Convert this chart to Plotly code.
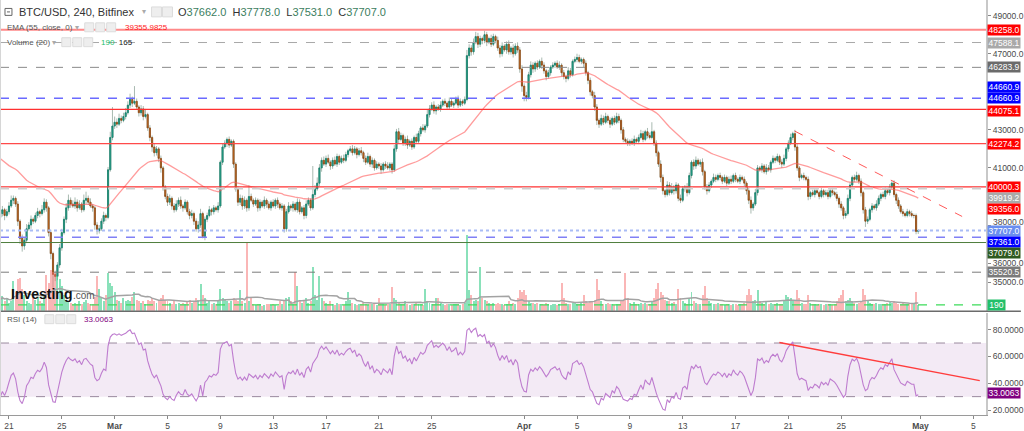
import plotly.graph_objects as go
import pandas as pd

# ------------------------------------------------------------------ data
START = "2018-02-20 08:00"          # first 4h candle shown
OPEN0 = 38400                       # open of the first candle

# closes, one line per day (6 x 4h candles), Feb 20 (4 candles) .. Apr 30
CLOSE = [
    38600, 38800, 38500, 38700,
    39000, 39300, 39400, 39100, 38200, 37300,
    36900, 37200, 37800, 38000, 38300, 38200,
    38500, 38700, 38600, 38800, 39200, 38900,
    37600, 36500, 35400, 35300, 35900, 36800,
    37600, 38300, 38900, 39300, 39100, 39000,
    39200, 38900, 39100, 38800, 39300, 39400,
    39200, 39000, 38900, 38000, 37700, 37800,
    38200, 38500, 38400, 40900, 42600, 43200,
    43400, 43300, 43600, 43500, 43700, 43900,
    44300, 44600, 44400, 44500, 44200, 43900,
    44100, 43700, 43800, 43100, 42600, 42100,
    41800, 42000, 41500, 41000, 40000, 39500,
    39200, 39400, 39000, 38800, 39100, 39300,
    39000, 38900, 39200, 38700, 38500, 38600,
    38200, 37800, 38000, 38600, 37400, 38300,
    38500, 38800, 38700, 38900, 38800, 39000,
    41300, 42100, 42300, 42500, 42200, 42400,
    41200, 39900, 39200, 39400, 39000, 39300,
    38900, 39500, 39300, 39100, 39300, 38900,
    39200, 39000, 39300, 39100, 38900, 39200,
    39000, 39300, 39100, 38900, 39000, 37800,
    38700, 39000, 38900, 39100, 38800, 39200,
    38700, 38900, 38500, 39100, 39300, 38900,
    39600, 39900, 40200, 41000, 41400, 41200,
    41500, 41300, 41100, 41400, 41200, 41600,
    41300, 41500, 41400, 41700, 41900, 42000,
    41800, 42000, 41700, 41900, 41800, 41500,
    41300, 41600, 41200, 41400, 41000, 41200,
    41100, 40900, 41200, 41100, 41000, 41200,
    40900, 42000, 42900, 42500, 42700, 42300,
    42500, 42200, 42400, 42100, 42600, 42400,
    42800, 43100, 43000, 43200, 43800, 44100,
    44300, 44000, 44200, 44100, 44300, 44500,
    44400, 44200, 44500, 44300, 44400, 44600,
    44300, 44500, 44400, 44600, 46900, 47300,
    47100, 47600, 47900, 47500, 47800, 47700,
    48000, 47600, 47800, 47500, 47900, 47700,
    47300, 47000, 47400, 47200, 47500, 47100,
    47300, 47000, 47400, 47200, 46200, 45300,
    44800, 44700, 45900, 46400, 46200, 46500,
    46300, 46600, 46400, 46100, 45800, 46000,
    46300, 46400, 46500, 46300, 46400, 46000,
    45800, 45700, 46100, 45900, 46600, 46700,
    46800, 46600, 46700, 46500, 46000, 45600,
    45000, 44800, 44200, 43500, 43300, 43600,
    43400, 43700, 43500, 43300, 43600, 43400,
    43700, 43500, 43000, 42500, 42400, 42300,
    42400, 42300, 42500, 42400, 42600, 42800,
    42500, 42900, 42700, 42600, 42900, 42300,
    41800, 41200, 40500, 39800, 39600, 40100,
    39700, 40000, 39800, 40100, 39400, 39300,
    39900, 40000, 39700, 40600, 41300, 41100,
    41400, 41200, 41300, 40800, 40000, 39800,
    40100, 40300, 40500, 40400, 40600, 40500,
    40300, 40500, 40200, 40400, 40300, 40600,
    40400, 40300, 40500, 40400, 40200, 39800,
    39300, 38900, 39100, 39700, 41000, 40900,
    41100, 40800, 41000, 40900, 41300, 41500,
    41400, 41600, 41300, 41200, 41500, 42000,
    42300, 42600, 42800, 42100, 41000, 40500,
    40600, 40500, 40400, 39500, 39700, 39600,
    39800, 39700, 39500, 39800, 39600, 39700,
    39500, 39800, 39700, 39600, 39400, 39100,
    38900, 38500, 38600, 39400, 40100, 40500,
    40400, 40600, 40300, 39700, 38800, 38200,
    38300, 38800, 39000, 38900, 39100, 39400,
    39600, 39500, 39800, 39700, 40000, 40200,
    39600, 39300, 39000, 38700, 38600, 38500,
    38700, 38600, 38500, 38500, 37662, 37707,
]

UP_WICK = [
    150, 200, 100, 150,
    200, 250, 150, 100, 150, 100,
    200, 150, 250, 150, 200, 100,
    150, 200, 100, 250, 200, 150,
    100, 150, 100, 200, 150, 200,
    200, 150, 250, 300, 150, 200,
    250, 150, 200, 100, 300, 350,
    150, 200, 100, 100, 150, 200,
    150, 200, 100, 150, 300, 1000,
    300, 200, 250, 150, 200, 250,
    200, 300, 150, 800, 150, 100,
    200, 150, 300, 100, 150, 100,
    200, 150, 100, 150, 100, 100,
    150, 200, 100, 150, 200, 150,
    200, 100, 150, 100, 150, 200,
    100, 150, 200, 250, 100, 150,
    150, 200, 100, 150, 100, 200,
    100, 200, 150, 100, 150, 100,
    100, 100, 150, 200, 150, 200,
    100, 600, 150, 100, 150, 100,
    150, 100, 200, 100, 150, 100,
    150, 100, 150, 100, 150, 100,
    150, 200, 100, 150, 100, 200,
    150, 100, 150, 200, 150, 100,
    1500, 200, 300, 200, 150, 200,
    150, 200, 100, 150, 200, 150,
    100, 150, 200, 150, 100, 150,
    200, 150, 100, 150, 200, 100,
    150, 200, 100, 150, 100, 150,
    100, 150, 100, 150, 200, 100,
    100, 200, 150, 200, 150, 100,
    150, 200, 100, 150, 100, 200,
    150, 100, 200, 100, 250, 200,
    150, 200, 100, 150, 200, 100,
    150, 100, 200, 150, 100, 150,
    200, 150, 100, 150, 300, 200,
    150, 200, 250, 200, 150, 100,
    200, 150, 100, 200, 150, 100,
    200, 150, 200, 100, 150, 200,
    100, 200, 150, 200, 150, 200,
    150, 200, 150, 200, 150, 100,
    150, 100, 200, 150, 100, 150,
    100, 150, 100, 150, 200, 100,
    150, 100, 200, 150, 100, 150,
    200, 150, 100, 100, 150, 100,
    150, 100, 200, 150, 100, 200,
    150, 200, 100, 150, 100, 150,
    200, 150, 100, 150, 100, 150,
    100, 150, 200, 100, 150, 200,
    150, 100, 200, 150, 500, 100,
    150, 100, 200, 150, 100, 200,
    150, 200, 100, 150, 100, 200,
    150, 100, 200, 150, 100, 150,
    200, 100, 150, 200, 100, 150,
    150, 100, 200, 150, 100, 150,
    100, 150, 100, 150, 200, 100,
    150, 100, 150, 100, 150, 100,
    150, 200, 100, 200, 150, 100,
    150, 100, 200, 150, 100, 150,
    100, 150, 100, 150, 200, 100,
    150, 200, 100, 200, 150, 100,
    100, 150, 100, 150, 100, 150,
    100, 150, 100, 150, 100, 150,
    150, 100, 150, 100, 150, 100,
    150, 100, 150, 200, 150, 100,
    150, 200, 100, 150, 100, 150,
    150, 100, 150, 100, 200, 150,
    100, 150, 200, 150, 150, 100,
    150, 100, 150, 100, 150, 100,
    150, 100, 150, 100, 100, 71,
]

DN_WICK = [
    200, 150, 250, 100,
    150, 100, 200, 150, 250, 300,
    300, 200, 150, 100, 200, 150,
    100, 150, 200, 100, 150, 200,
    200, 300, 700, 250, 200, 150,
    150, 100, 200, 150, 200, 100,
    150, 200, 100, 150, 100, 200,
    150, 100, 200, 250, 200, 150,
    100, 150, 200, 100, 100, 150,
    150, 200, 100, 150, 100, 150,
    100, 150, 200, 100, 150, 200,
    150, 200, 100, 150, 200, 250,
    200, 150, 200, 250, 200, 150,
    200, 150, 200, 150, 100, 150,
    150, 200, 100, 150, 200, 150,
    200, 150, 200, 150, 100, 200,
    150, 100, 200, 150, 100, 150,
    100, 150, 100, 200, 150, 100,
    200, 150, 200, 150, 200, 150,
    200, 150, 100, 150, 100, 200,
    150, 100, 150, 200, 100, 150,
    100, 150, 200, 100, 150, 200,
    150, 100, 150, 200, 100, 150,
    150, 100, 200, 150, 100, 150,
    100, 150, 100, 150, 200, 100,
    150, 100, 200, 150, 100, 150,
    150, 100, 150, 100, 150, 100,
    150, 100, 200, 100, 150, 200,
    150, 100, 150, 200, 150, 100,
    150, 200, 100, 150, 100, 150,
    200, 100, 150, 200, 100, 150,
    150, 200, 100, 150, 100, 150,
    100, 150, 100, 150, 100, 150,
    100, 150, 200, 100, 150, 100,
    150, 100, 150, 100, 150, 100,
    150, 100, 150, 100, 100, 150,
    200, 150, 100, 200, 150, 200,
    150, 200, 100, 150, 100, 150,
    150, 200, 150, 100, 200, 150,
    150, 200, 100, 150, 200, 300,
    300, 200, 100, 150, 200, 150,
    150, 100, 200, 150, 200, 100,
    150, 100, 150, 100, 150, 200,
    150, 200, 100, 150, 100, 100,
    150, 100, 150, 200, 150, 200,
    200, 150, 200, 250, 200, 100,
    150, 100, 150, 200, 100, 150,
    100, 150, 200, 150, 100, 150,
    150, 100, 150, 100, 150, 100,
    150, 100, 150, 100, 100, 150,
    200, 150, 250, 200, 150, 100,
    150, 100, 200, 150, 150, 150,
    100, 150, 200, 100, 150, 200,
    150, 100, 150, 200, 150, 200,
    100, 150, 100, 150, 100, 150,
    150, 100, 150, 100, 150, 100,
    150, 100, 150, 100, 150, 200,
    200, 300, 150, 100, 150, 100,
    150, 100, 150, 100, 150, 100,
    150, 100, 150, 200, 100, 150,
    150, 100, 150, 200, 150, 200,
    100, 150, 100, 200, 150, 100,
    150, 100, 150, 100, 150, 100,
    150, 100, 150, 100, 150, 200,
    150, 200, 150, 100, 150, 100,
    150, 100, 150, 200, 200, 300,
    150, 100, 150, 100, 150, 100,
    150, 100, 150, 100, 150, 100,
    150, 200, 150, 100, 150, 100,
    100, 150, 100, 150, 150, 131,
]

VOLUME = [
    350, 480, 300, 420,
    250, 300, 950, 600, 1000, 1050,
    700, 500, 300, 250, 200, 400,
    350, 450, 300, 250, 500, 1150,
    900, 1300, 1250, 1200, 1100, 1000,
    800, 500, 350, 300, 250, 200,
    250, 200, 300, 220, 280, 350,
    250, 220, 200, 450, 1100, 700,
    400, 300, 500, 1200, 900, 800,
    600, 350, 300, 250, 400, 300,
    350, 300, 450, 600, 350, 300,
    250, 300, 200, 350, 300, 400,
    300, 250, 350, 400, 500, 350,
    300, 250, 200, 300, 220, 250,
    200, 250, 220, 300, 350, 250,
    300, 400, 350, 850, 500, 400,
    250, 300, 200, 250, 220, 300,
    700, 400, 350, 300, 250, 300,
    400, 350, 300, 650, 300, 250,
    2150, 300, 420, 200, 180, 220,
    200, 150, 180, 220, 200, 170,
    200, 180, 150, 300, 200, 350,
    400, 450, 300, 200, 1250, 800,
    300, 250, 350, 420, 250, 300,
    1400, 500, 350, 1100, 400, 300,
    250, 200, 300, 220, 180, 250,
    200, 220, 180, 300, 600, 350,
    250, 200, 180, 220, 200, 250,
    200, 180, 220, 200, 250, 180,
    400, 220, 200, 180, 220, 200,
    750, 400, 350, 250, 200, 220,
    300, 200, 180, 220, 200, 250,
    200, 220, 180, 700, 300, 250,
    220, 200, 400, 400, 250, 200,
    180, 200, 220, 180, 200, 220,
    200, 180, 220, 250, 2400, 650,
    500, 300, 350, 300, 1400, 400,
    350, 300, 250, 200, 250, 220,
    250, 200, 220, 180, 200, 300,
    220, 250, 200, 400, 650, 600,
    650, 500, 300, 250, 250, 220,
    250, 200, 220, 180, 250, 200,
    180, 200, 220, 180, 200, 900,
    400, 250, 200, 220, 250, 280,
    220, 200, 250, 500, 300, 250,
    300, 300, 350, 1000, 650, 300,
    220, 200, 250, 220, 200, 180,
    200, 220, 300, 350, 1200, 400,
    250, 200, 280, 220, 200, 250,
    220, 250, 200, 220, 300, 400,
    700, 900, 600, 500, 350, 300,
    300, 250, 280, 220, 700, 400,
    300, 250, 220, 400, 600, 300,
    250, 220, 200, 500, 800, 400,
    300, 250, 220, 200, 250, 220,
    200, 180, 220, 200, 180, 220,
    200, 180, 220, 200, 250, 500,
    700, 500, 300, 350, 650, 300,
    250, 220, 300, 200, 250, 220,
    200, 250, 220, 200, 300, 500,
    450, 400, 350, 300, 650, 400,
    250, 220, 200, 500, 250, 200,
    200, 180, 220, 200, 180, 200,
    200, 220, 180, 200, 300, 400,
    500, 650, 300, 350, 400, 300,
    250, 220, 250, 300, 700, 500,
    300, 250, 220, 200, 250, 220,
    200, 220, 200, 250, 300, 250,
    300, 250, 220, 200, 250, 220,
    200, 220, 200, 250, 600, 190,
]

EMA_LENGTH = 55
EMA_SEED = 41600.0          # EMA level at the left edge
RSI_LENGTH = 14
RSI_SEED_GAIN = 60.0        # Wilder averages at the left edge
RSI_SEED_LOSS = 180.0
VOL_MA_LENGTH = 20

X_RANGE = ["2018-02-20 07:41", "2018-05-05 23:03"]
X_TICK_DATES = ["2018-02-21", "2018-02-25", "2018-03-01", "2018-03-05", "2018-03-09",
                "2018-03-13", "2018-03-17", "2018-03-21", "2018-03-25", "2018-04-01",
                "2018-04-05", "2018-04-09", "2018-04-13", "2018-04-17", "2018-04-21",
                "2018-04-25", "2018-05-01", "2018-05-05"]
X_TICK_TEXT = ["21", "25", "<b>Mar</b>", "5", "9", "13", "17", "21", "25", "<b>Apr</b>",
               "5", "9", "13", "17", "21", "25", "<b>May</b>", "5"]

PRICE_RANGE = [33494, 49823]
PRICE_TICKS = [49000, 47000, 43000, 41000, 38000, 36000, 35000]   # those not hidden by tags
PRICE_TICK_RAISED = 38000                                         # label nudged up, clear of tag
VOL_RANGE = [0, 9900]
RSI_RANGE = [16.3, 92.6]
RSI_TICKS = [20, 40, 60, 80]
RSI_BAND = [30, 70]

# horizontal drawing levels
LEVELS = [48258.0, 47588.1, 46283.9, 44660.9, 44075.1, 42274.2,
          40000.3, 39919.2, 37707.0, 37361.0, 37079.0, 35520.5]
EMA_LABEL = 39356.0
VOL_LABEL = 190
RSI_LABEL = 33.0063

TREND_T = ["2018-04-21 11:20", "2018-05-04 03:40"]
TREND_P = [42937, 38450]
RSI_TREND_T = ["2018-04-20 07:40", "2018-05-05 11:45"]
RSI_TREND_V = [70.4, 42.0]

LEGEND_OHLC = ["37662.0", "37778.0", "37531.0", "37707.0"]
LEGEND_EMA = "39355.9825"
LEGEND_VOL = ["190", "165"]
LEGEND_RSI = "33.0063"

# ------------------------------------------------------------------ styles
FONT = "Liberation Sans, Arial, sans-serif"
W, H = 1024, 431
ML, MR, MT, MB = 0, 35, 0, 13
PW, PH = W - ML - MR, H - MT - MB        # plot area in px
MAIN_BOTTOM_PX = 313
RSI_TOP_PX = 315
TAG_H = 10

LEVEL_STYLE = [
    dict(color="rgba(255,40,40,0.55)", width=2, dash="solid", bg="#ff0000", shift=0),
    dict(color="#a8a8a8", width=1, dash="dash", bg="#a9a9a9", shift=0),
    dict(color="#8a8a8a", width=1, dash="dash", bg="#6b6b6b", shift=0),
    dict(color="#6a6aff", width=1.5, dash="dash", bg="#0000ff", shift=0),
    dict(color="#ff3030", width=1.2, dash="solid", bg="#ff0000", shift=-1.5),
    dict(color="#ff4a4a", width=1.2, dash="solid", bg="#ff0000", shift=0),
    dict(color="#ff3030", width=1.2, dash="solid", bg="#ff0000", shift=0),
    dict(color="#cfcfcf", width=2, dash="dash", bg="#a9a9a9", shift=-9.5),
    dict(color="#a9bcf5", width=2, dash="dot", bg="#6a8ef0", shift=0),
    dict(color="#8080f5", width=1.5, dash="dash", bg="#0000ff", shift=-4.4),
    dict(color="#4f7d3c", width=1, dash="solid", bg="#2f5a20", shift=-10),
    dict(color="#7a7a7a", width=1, dash="dash", bg="#7a7a7a", shift=0),
]


def px(x):
    return (x - ML) / PW


def py(y):
    return 1 - (y - MT) / PH


# ------------------------------------------------------------------ derived
n = len(CLOSE)
dates = pd.date_range(START, periods=n, freq="4h")
opens = [OPEN0] + CLOSE[:-1]
highs = [max(o, c) + u for o, c, u in zip(opens, CLOSE, UP_WICK)]
lows = [min(o, c) - d for o, c, d in zip(opens, CLOSE, DN_WICK)]
body_hi = [max(o, c) for o, c in zip(opens, CLOSE)]
body_lo = [min(o, c) for o, c in zip(opens, CLOSE)]

ema, e, k = [], EMA_SEED, 2.0 / (EMA_LENGTH + 1)
for c in CLOSE:
    e = e + k * (c - e)
    ema.append(e)

rsi, ag, al, prev = [], RSI_SEED_GAIN, RSI_SEED_LOSS, OPEN0
for c in CLOSE:
    ch = c - prev
    ag = (ag * (RSI_LENGTH - 1) + max(ch, 0)) / RSI_LENGTH
    al = (al * (RSI_LENGTH - 1) + max(-ch, 0)) / RSI_LENGTH
    rsi.append(100 - 100 / (1 + ag / al))
    prev = c

vol_ma = pd.Series(VOLUME).rolling(VOL_MA_LENGTH, min_periods=1).mean()
vol_colors = ["rgba(60,205,140,0.6)" if c >= o else "rgba(245,110,110,0.5)"
              for o, c in zip(opens, CLOSE)]

# ------------------------------------------------------------------ figure
fig = go.Figure()

fig.add_trace(go.Bar(x=dates, y=VOLUME, marker=dict(color=vol_colors, line=dict(width=0)),
                     width=4 * 3600 * 1000 * 0.9, xaxis="x", yaxis="y3",
                     hoverinfo="skip", showlegend=False))
fig.add_trace(go.Scatter(x=dates, y=vol_ma, mode="lines", line=dict(color="#a3a3a3", width=1.5),
                         xaxis="x", yaxis="y3", hoverinfo="skip", showlegend=False))
fig.add_trace(go.Scatter(x=dates, y=ema, mode="lines", line=dict(color="rgba(255,90,90,0.6)", width=1.3),
                         xaxis="x", yaxis="y", hoverinfo="skip", showlegend=False))
# wicks (grey) then bodies (coloured)
fig.add_trace(go.Candlestick(x=dates, open=opens, high=highs, low=lows, close=CLOSE,
                             increasing=dict(line=dict(color="#a9bab1", width=1), fillcolor="#a9bab1"),
                             decreasing=dict(line=dict(color="#a9bab1", width=1), fillcolor="#a9bab1"),
                             whiskerwidth=0, xaxis="x", yaxis="y", hoverinfo="skip", showlegend=False))
fig.add_trace(go.Candlestick(x=dates, open=opens, high=body_hi, low=body_lo, close=CLOSE,
                             increasing=dict(line=dict(color="#17806c", width=0.8), fillcolor="#2aae93"),
                             decreasing=dict(line=dict(color="#8e4510", width=0.8), fillcolor="#e0802c"),
                             whiskerwidth=0, xaxis="x", yaxis="y", hoverinfo="skip", showlegend=False))
fig.add_trace(go.Scatter(x=dates, y=rsi, mode="lines", line=dict(color="#be7ccf", width=1.1),
                         xaxis="x", yaxis="y2", hoverinfo="skip", showlegend=False))

shapes = []
# RSI band
shapes.append(dict(type="rect", xref="paper", yref="y2", x0=0, x1=1, y0=RSI_BAND[0], y1=RSI_BAND[1],
                   fillcolor="rgba(155,80,175,0.12)", line=dict(width=0), layer="below"))
for v in RSI_BAND:
    shapes.append(dict(type="line", xref="paper", yref="y2", x0=0, x1=1, y0=v, y1=v,
                       line=dict(color="#9a8a9e", width=1, dash="dash"), layer="below"))
# price levels
for v, st in zip(LEVELS, LEVEL_STYLE):
    shapes.append(dict(type="line", xref="paper", yref="y", x0=0, x1=1, y0=v, y1=v,
                       line=dict(color=st["color"], width=st["width"], dash=st["dash"])))
# volume last-value line
shapes.append(dict(type="line", xref="paper", yref="y3", x0=0, x1=1, y0=VOL_LABEL, y1=VOL_LABEL,
                   line=dict(color="#3ddc5a", width=1.3, dash="dash")))
# trend lines
shapes.append(dict(type="line", xref="x", yref="y", x0=TREND_T[0], x1=TREND_T[1],
                   y0=TREND_P[0], y1=TREND_P[1], line=dict(color="rgba(255,60,60,0.85)", width=1, dash="dash")))
shapes.append(dict(type="line", xref="x", yref="y2", x0=RSI_TREND_T[0], x1=RSI_TREND_T[1],
                   y0=RSI_TREND_V[0], y1=RSI_TREND_V[1], line=dict(color="#ff3c3c", width=1.3)))
# pane separator and frame
shapes.append(dict(type="line", xref="paper", yref="paper", x0=0, x1=W / PW,
                   y0=py(MAIN_BOTTOM_PX + 0.5), y1=py(MAIN_BOTTOM_PX + 0.5), line=dict(color="#6b6b6b", width=1.5)))
shapes.append(dict(type="line", xref="paper", yref="paper", x0=px(0.5), x1=px(0.5), y0=0, y1=1,
                   line=dict(color="#d6d6d6", width=1)))
# legend icon boxes
shapes.append(dict(type="rect", xref="paper", yref="paper", x0=px(5), x1=px(12), y0=py(15.5), y1=py(8.5),
                   line=dict(color="#666", width=1), fillcolor="white"))
shapes.append(dict(type="line", xref="paper", yref="paper", x0=px(7), x1=px(10), y0=py(12), y1=py(12),
                   line=dict(color="#666", width=1)))
for (x0, y0) in [(152, 7), (163, 7), (85, 23), (96, 23), (107, 23), (62, 38), (73, 38), (84, 38),
                 (45, 317), (56, 317), (67, 317)]:
    w = 10 if y0 == 7 else 9
    shapes.append(dict(type="rect", xref="paper", yref="paper", x0=px(x0), x1=px(x0 + w),
                       y0=py(y0 + w), y1=py(y0), line=dict(color="#dcdcdc", width=1), fillcolor="#eeeeee"))

ann = []
axis_font = dict(family=FONT, size=8.5, color="#4a4a4a")


def tag(yref, y, text, bg, shift=0, width=32):
    return dict(xref="paper", yref=yref, x=1, y=y, xanchor="left", yanchor="middle", xshift=1,
                yshift=shift, text=text, showarrow=False, bgcolor=bg, borderpad=0,
                width=width, height=TAG_H, align="center", valign="middle",
                font=dict(family=FONT, size=8.5, color="white"))


# right axis labels
for v, st in zip(LEVELS, LEVEL_STYLE):
    ann.append(tag("y", v, f"{v:.1f}", st["bg"], st["shift"]))
ann.append(tag("y", LEVELS[3], f"{LEVELS[3]:.1f}", "#0000ff", 11))   # second stacked 44660.9 tag
ann.append(tag("y", EMA_LABEL, f"{EMA_LABEL:.1f}", "#ff0000", -9.7))
ann.append(tag("y3", VOL_LABEL, str(VOL_LABEL), "#22c06a", 0, 17))
ann.append(tag("y2", RSI_LABEL, f"{RSI_LABEL:.4f}", "#800080"))
# price tick label that sits just above the last-price tag
ann.append(dict(xref="paper", yref="y", x=1, y=PRICE_TICK_RAISED, xanchor="left", yanchor="middle",
                xshift=5, yshift=3, text=f"{PRICE_TICK_RAISED:.1f}", showarrow=False, font=axis_font))

# legends (top-left)
green = "#3b7d5e"
ann.append(dict(xref="paper", yref="paper", x=px(17), y=py(12), xanchor="left", yanchor="middle",
                text="BTC/USD, 240, Bitfinex", showarrow=False, font=dict(family=FONT, size=11, color="#333")))
ann.append(dict(xref="paper", yref="paper", x=px(140), y=py(12), xanchor="left", yanchor="middle",
                text="▾", showarrow=False, font=dict(family=FONT, size=8, color="#aaa")))
ohlc_txt = "  ".join(f"{k}<span style='color:{green}'>{v}</span>"
                     for k, v in zip(["O", "H", "L", "C"], LEGEND_OHLC))
ann.append(dict(xref="paper", yref="paper", x=px(177), y=py(12), xanchor="left", yanchor="middle",
                text=ohlc_txt, showarrow=False, font=dict(family=FONT, size=11, color="#333")))
ann.append(dict(xref="paper", yref="paper", x=px(5), y=py(27.5), xanchor="left", yanchor="middle",
                text="EMA (55, close, 0) <span style='color:#aaa'>▾</span>", showarrow=False,
                font=dict(family=FONT, size=8, color="#555")))
ann.append(dict(xref="paper", yref="paper", x=px(123), y=py(27.5), xanchor="left", yanchor="middle",
                text=LEGEND_EMA, showarrow=False, font=dict(family=FONT, size=8, color="#ff1a1a")))
ann.append(dict(xref="paper", yref="paper", x=px(5), y=py(42.5), xanchor="left", yanchor="middle",
                text="Volume (20) <span style='color:#aaa'>▾</span>", showarrow=False,
                font=dict(family=FONT, size=8, color="#555")))
ann.append(dict(xref="paper", yref="paper", x=px(99), y=py(42.5), xanchor="left", yanchor="middle",
                text=f"<span style='color:#22c06a'>{LEGEND_VOL[0]}</span>  {LEGEND_VOL[1]}", showarrow=False,
                font=dict(family=FONT, size=8, color="#222")))
ann.append(dict(xref="paper", yref="paper", x=px(5), y=py(322), xanchor="left", yanchor="middle",
                text="RSI (14)", showarrow=False, font=dict(family=FONT, size=8, color="#555")))
ann.append(dict(xref="paper", yref="paper", x=px(82), y=py(322), xanchor="left", yanchor="middle",
                text=LEGEND_RSI, showarrow=False, font=dict(family=FONT, size=8, color="#800080")))
# watermark
ann.append(dict(xref="paper", yref="paper", x=px(9), y=py(296), xanchor="left", yanchor="middle",
                text="<b>Investing</b>", showarrow=False, font=dict(family=FONT, size=14, color="#111")))
ann.append(dict(xref="paper", yref="paper", x=px(71), y=py(298), xanchor="left", yanchor="middle",
                text=".com", showarrow=False, font=dict(family=FONT, size=10, color="#555")))

main_dom = [py(MAIN_BOTTOM_PX), 1]
rsi_dom = [0, py(RSI_TOP_PX)]
price_ticktext = ["" if t == PRICE_TICK_RAISED else f"{t:.1f}" for t in PRICE_TICKS]

fig.update_layout(
    width=W, height=H, margin=dict(l=ML, r=MR, t=MT, b=MB),
    paper_bgcolor="white", plot_bgcolor="white", showlegend=False,
    font=dict(family=FONT), bargap=0, hovermode=False,
    xaxis=dict(type="date", range=X_RANGE, domain=[0, 1], anchor="y2",
               tickvals=X_TICK_DATES, ticktext=X_TICK_TEXT, ticks="outside", ticklen=3,
               tickcolor="#888", showline=True, linecolor="#9a9a9a", linewidth=1,
               showgrid=False, zeroline=False, tickfont=axis_font,
               rangeslider=dict(visible=False)),
    yaxis=dict(domain=main_dom, range=PRICE_RANGE, side="right", anchor="x",
               tickvals=PRICE_TICKS, ticktext=price_ticktext, ticks="outside", ticklen=3,
               tickcolor="#888", showline=True, linecolor="#c8c8c8", linewidth=2,
               showgrid=False, zeroline=False, tickfont=axis_font),
    yaxis3=dict(overlaying="y", range=VOL_RANGE, visible=False, anchor="x"),
    yaxis2=dict(domain=rsi_dom, range=RSI_RANGE, side="right", anchor="x",
                tickvals=RSI_TICKS, ticktext=[f"{t:.4f}" for t in RSI_TICKS],
                ticks="outside", ticklen=3, tickcolor="#888",
                showline=True, linecolor="#c8c8c8", linewidth=2, showgrid=False, zeroline=False,
                tickfont=axis_font),
    shapes=shapes, annotations=ann,
)

fig.write_html("out.html", config={"displayModeBar": False})
